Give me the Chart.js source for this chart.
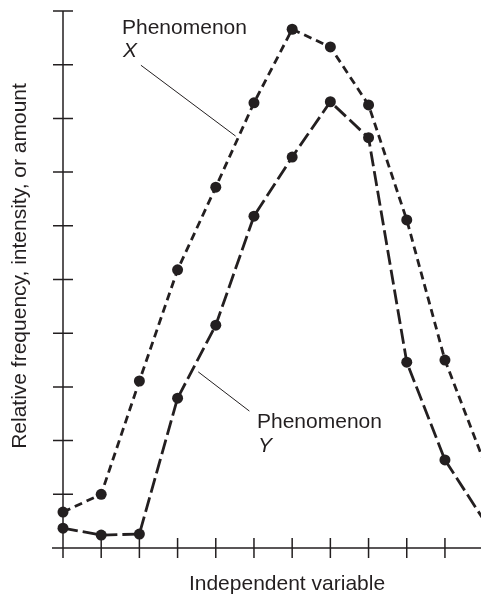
<!DOCTYPE html>
<html>
<head>
<meta charset="utf-8">
<script src="https://cdn.jsdelivr.net/npm/chart.js@4.4.1/dist/chart.umd.min.js"></script>
<style>
  html, body { margin: 0; padding: 0; background: #fff; }
  #wrap { width: 481px; height: 594px; }
</style>
</head>
<body>
<div id="wrap"><canvas id="phenChart"></canvas></div>
<script>
// values (0 = baseline, 10 = top tick)
const steps = [0, 1, 2, 3, 4, 5, 6, 7, 8, 9, 10, 11];
const phenomenonX = [0.67, 1.0, 3.11, 5.18, 6.72, 8.29, 9.66, 9.33, 8.25, 6.11, 3.5, 1.65];
const phenomenonY = [0.37, 0.24, 0.26, 2.79, 4.15, 6.18, 7.28, 8.31, 7.64, 3.46, 1.64, 0.54];
const xTicks = [0, 1, 2, 3, 4, 5, 6, 7, 8, 9, 10];
const yTicks = [0, 1, 2, 3, 4, 5, 6, 7, 8, 9, 10];

const ink = '#231f20';
const font = '"Liberation Sans", Arial, sans-serif';

function toPoints(vals) {
    return vals.map((v, i) => ({ x: steps[i], y: v }));
}

// axes with ticks crossing the line, like the printed figure
const axesPlugin = {
    id: 'axesPlugin',
    beforeDatasetsDraw(chart) {
        const ctx = chart.ctx;
        const xs = chart.scales.x, ys = chart.scales.y;
        const x0 = xs.getPixelForValue(0), y0 = ys.getPixelForValue(0);
        ctx.save();
        ctx.strokeStyle = ink;
        ctx.lineWidth = 1.5;
        ctx.beginPath();
        ctx.moveTo(x0, ys.getPixelForValue(10));
        ctx.lineTo(x0, y0 + 10);
        ctx.moveTo(x0 - 11, y0);
        ctx.lineTo(chart.width, y0);
        yTicks.forEach(t => {
            const py = ys.getPixelForValue(t);
            ctx.moveTo(x0 - 10, py);
            ctx.lineTo(x0 + 10, py);
        });
        xTicks.forEach(t => {
            const px = xs.getPixelForValue(t);
            ctx.moveTo(px, t === 0 ? y0 : y0 - 10);
            ctx.lineTo(px, y0 + 10);
        });
        ctx.stroke();
        ctx.restore();
    },
    afterDatasetsDraw(chart) {
        const ctx = chart.ctx;
        const xs = chart.scales.x, ys = chart.scales.y;
        const px = v => xs.getPixelForValue(v), py = v => ys.getPixelForValue(v);
        ctx.save();
        ctx.fillStyle = ink;
        ctx.strokeStyle = ink;
        ctx.lineWidth = 1;

        // leader lines
        ctx.beginPath();
        ctx.moveTo(px(2.04), py(8.99));
        ctx.lineTo(px(4.52), py(7.67));
        ctx.moveTo(px(3.54), py(3.28));
        ctx.lineTo(px(4.88), py(2.55));
        ctx.stroke();

        ctx.textBaseline = 'alphabetic';
        ctx.textAlign = 'left';
        ctx.font = '21px ' + font;
        ctx.fillText('Phenomenon', 122, 34);
        ctx.fillText('Phenomenon', 257, 428);
        ctx.font = 'italic 21px ' + font;
        ctx.fillText('X', 123, 57);
        ctx.fillText('Y', 258, 452);

        // axis titles
        ctx.font = '21px ' + font;
        ctx.textAlign = 'center';
        ctx.fillText('Independent variable', 287, 590);
        ctx.translate(26, 266);
        ctx.rotate(-Math.PI / 2);
        ctx.fillText('Relative frequency, intensity, or amount', 0, 0);
        ctx.restore();
    }
};

const ctx = document.getElementById('phenChart').getContext('2d');
const phenChart = new Chart(ctx, {
    type: 'line',
    data: {
        datasets: [
            {
                label: 'Phenomenon X',
                data: toPoints(phenomenonX),
                borderColor: ink,
                backgroundColor: ink,
                borderWidth: 2.8,
                borderDash: [8, 5],
                pointRadius: 5.5,
                pointBorderWidth: 0,
                tension: 0,
                clip: false
            },
            {
                label: 'Phenomenon Y',
                data: toPoints(phenomenonY),
                borderColor: ink,
                backgroundColor: ink,
                borderWidth: 2.8,
                borderDash: [15, 5],
                pointRadius: 5.5,
                pointBorderWidth: 0,
                tension: 0,
                clip: false
            }
        ]
    },
    options: {
        responsive: true,
        maintainAspectRatio: false,
        animation: false,
        layout: { padding: { left: 63, right: 0, top: 11, bottom: 46 } },
        plugins: {
            legend: { display: false },
            tooltip: { enabled: false }
        },
        scales: {
            x: { type: 'linear', min: 0, max: 10.8, display: false },
            y: { type: 'linear', min: 0, max: 10, display: false }
        }
    },
    plugins: [axesPlugin]
});
</script>
</body>
</html>
